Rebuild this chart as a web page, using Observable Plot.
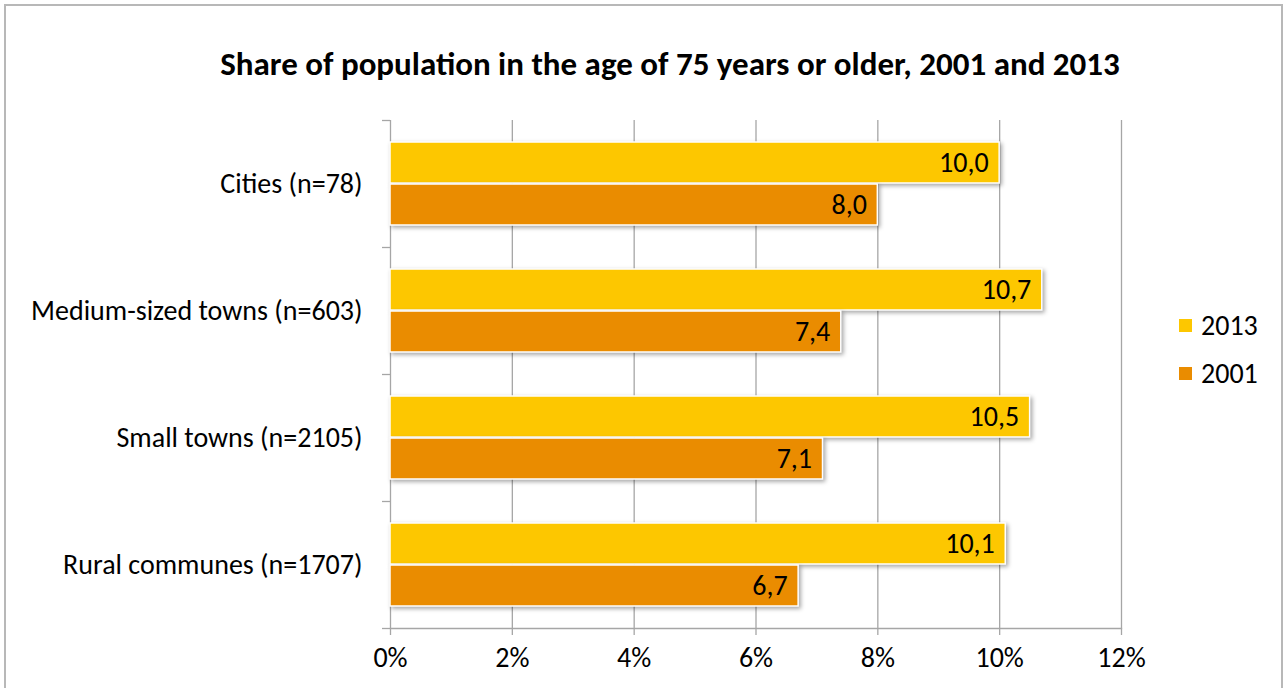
<!DOCTYPE html>
<html>
<head>
<meta charset="utf-8">
<script src="https://cdn.jsdelivr.net/npm/d3@7"></script>
<script src="https://cdn.jsdelivr.net/npm/@observablehq/plot@0.6"></script>
<style>
  html, body { margin: 0; padding: 0; background: #fff; }
  #wrap { position: relative; width: 1287px; height: 688px; overflow: hidden; font-family: Calibri, Carlito, Lato, sans-serif; }
  #border { position: absolute; left: 4px; top: 4px; width: 1279px; height: 700px; border: 2px solid #b8b8b8; box-sizing: border-box; }
  #title { position: absolute; left: 0; width: 1340px; top: 42px; text-align: center; font-weight: bold; font-size: 33px; line-height: 44px; color: #000; }
  #chart { position: absolute; left: 0; top: 0; }
  #legend { position: absolute; left: 1179px; top: 301px; font-size: 28px; color: #000; }
  #legend .item { display: flex; align-items: center; height: 48px; }
  #legend .sw { width: 13px; height: 13px; margin-right: 9px; }
  g[aria-label="bar"] rect { filter: drop-shadow(2px 2px 2px rgba(0,0,0,0.35)); }
</style>
</head>
<body>
<div id="wrap">
  <div id="border"></div>
  <div id="chart"></div>
  <div id="title">Share of population in the age of 75 years or older, 2001 and 2013</div>
  <div id="legend"></div>
</div>
<script>
// Share of residents aged 75+ (%) by settlement type
const categories = ["Cities (n=78)", "Medium-sized towns (n=603)", "Small towns (n=2105)", "Rural communes (n=1707)"];
const share2013 = [10.0, 10.7, 10.5, 10.1];
const share2001 = [8.0, 7.4, 7.1, 6.7];
const xTicks = [0, 2, 4, 6, 8, 10, 12];
const seriesNames = ["2013", "2001"];
const seriesColors = ["#fdc700", "#ea8c00"];

const rows2013 = categories.map((c, i) => ({category: c, value: share2013[i]}));
const rows2001 = categories.map((c, i) => ({category: c, value: share2001[i]}));
const fmt = v => v.toFixed(1).replace(".", ",");
const gridColor = "#a6a6a6";
const font = "Calibri, Carlito, Lato, sans-serif";
const fs = 28;

const chart = Plot.plot({
  width: 1287,
  height: 688,
  marginLeft: 390,
  marginRight: 166,
  marginTop: 120,
  marginBottom: 60,
  style: {fontFamily: font, fontSize: fs + "px", color: "#000", background: "transparent"},
  x: {domain: [0, 12], ticks: xTicks, tickFormat: d => d + "%"},
  y: {domain: categories, padding: 0},
  marks: [
    Plot.gridX(xTicks, {stroke: gridColor, strokeOpacity: 1, strokeWidth: 1.3}),
    Plot.frame({anchor: "bottom", stroke: gridColor, strokeWidth: 1.3}),
    // category separators on the left axis
    Plot.ruleY(categories, {y: d => d, x1: 0, x2: 0, insetLeft: -8, dy: -63.5, stroke: gridColor, strokeWidth: 1.3}),
    Plot.ruleY(categories.slice(-1), {y: d => d, x1: 0, x2: 0, insetLeft: -8, dy: 63.5, stroke: gridColor, strokeWidth: 1.3}),
    Plot.axisX({ticks: xTicks, tickFormat: d => d + "%", tickSize: 7, stroke: gridColor, strokeWidth: 1.3, tickPadding: 12, label: null, fontSize: fs}),
    Plot.axisY({tickSize: 0, tickPadding: 28, label: null, fontSize: fs}),
    Plot.barX(rows2013, {y: "category", x: "value", fill: seriesColors[0], stroke: "#fff", strokeWidth: 1.5, insetTop: 22, insetBottom: 64}),
    Plot.barX(rows2001, {y: "category", x: "value", fill: seriesColors[1], stroke: "#fff", strokeWidth: 1.5, insetTop: 64, insetBottom: 22}),
    Plot.text(rows2013, {y: "category", x: "value", text: d => fmt(d.value), textAnchor: "end", dx: -11, dy: -21, fontSize: fs, fill: "#000"}),
    Plot.text(rows2001, {y: "category", x: "value", text: d => fmt(d.value), textAnchor: "end", dx: -11, dy: 21, fontSize: fs, fill: "#000"})
  ]
});
document.getElementById("chart").appendChild(chart);

const legend = document.getElementById("legend");
seriesNames.forEach((name, i) => {
  const item = document.createElement("div");
  item.className = "item";
  const sw = document.createElement("div");
  sw.className = "sw";
  sw.style.background = seriesColors[i];
  const label = document.createElement("span");
  label.textContent = name;
  item.appendChild(sw);
  item.appendChild(label);
  legend.appendChild(item);
});
</script>
</body>
</html>
